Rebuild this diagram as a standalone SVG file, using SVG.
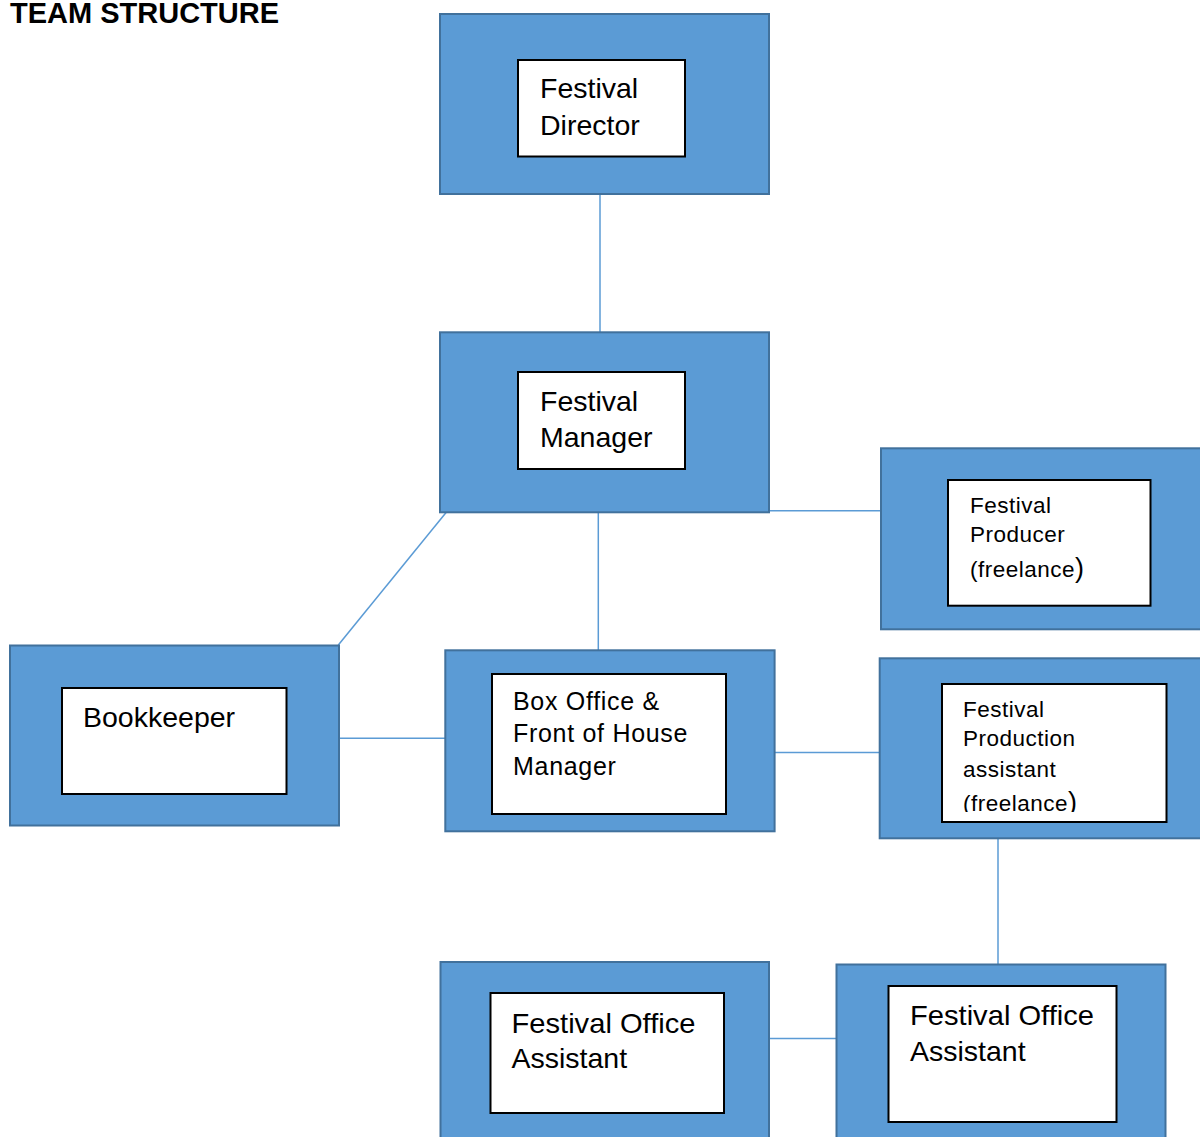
<svg xmlns="http://www.w3.org/2000/svg" width="1200" height="1137" viewBox="0 0 1200 1137">
<style>
.outer{fill:#5B9BD5;stroke:#41719C;stroke-width:2}
.inner{fill:#FFFFFF;stroke:#000000;stroke-width:2}
.conn{stroke:#5B9BD5;stroke-width:1.5;fill:none}
.t{font-family:"Liberation Sans",Arial,sans-serif;fill:#000000}
.big{font-size:28.5px}
.mid{font-size:25px;letter-spacing:0.7px}
.sm{font-size:22.5px;letter-spacing:0.5px}
.title{font-family:"Liberation Sans",Arial,sans-serif;font-weight:bold;font-size:29px;fill:#000000}
</style>
<defs>
<clipPath id="clipPA"><rect x="942" y="684" width="224" height="128"/></clipPath>
</defs>
<rect width="1200" height="1137" fill="#FFFFFF"/>
<text class="title" x="10" y="23">TEAM STRUCTURE</text>
<g id="connectors">
<line class="conn" x1="600" y1="194" x2="600" y2="332"/>
<line class="conn" x1="769" y1="510.7" x2="881" y2="510.7"/>
<line class="conn" x1="598.3" y1="512" x2="598.3" y2="650"/>
<line class="conn" x1="446.7" y1="511.7" x2="338.3" y2="645"/>
<line class="conn" x1="339" y1="738.3" x2="492" y2="738.3"/>
<line class="conn" x1="775" y1="752.5" x2="880" y2="752.5"/>
<line class="conn" x1="998" y1="838" x2="998" y2="964"/>
<line class="conn" x1="769" y1="1038.5" x2="836" y2="1038.5"/>
</g>
<g id="festival-director">
<rect class="outer" x="440" y="14" width="329" height="180"/>
<rect class="inner" x="518" y="60" width="167" height="96.5"/>
<text class="t big" x="540" y="98">Festival</text>
<text class="t big" x="540" y="135">Director</text>
</g>
<g id="festival-manager">
<rect class="outer" x="440" y="332.3" width="329" height="180"/>
<rect class="inner" x="518" y="372" width="167" height="97"/>
<text class="t big" x="540" y="410.7">Festival</text>
<text class="t big" x="540" y="446.5">Manager</text>
</g>
<g id="festival-producer">
<rect class="outer" x="881" y="448.3" width="325" height="181"/>
<rect class="inner" x="948" y="480" width="202.5" height="125.7"/>
<text class="t sm" x="970" y="512.7">Festival</text>
<text class="t sm" x="970" y="542">Producer</text>
<text class="t sm" x="970" y="577">(freelance<tspan font-size="27px">)</tspan></text>
</g>
<g id="bookkeeper">
<rect class="outer" x="10" y="645.5" width="329" height="180"/>
<rect class="inner" x="62" y="688" width="224.5" height="106"/>
<text class="t big" x="83" y="727">Bookkeeper</text>
</g>
<g id="box-office">
<rect class="outer" x="445.3" y="650.3" width="329.3" height="181"/>
<rect class="inner" x="492" y="674" width="234" height="140"/>
<text class="t mid" x="513" y="710">Box Office &amp;</text>
<text class="t mid" x="513" y="742">Front of House</text>
<text class="t mid" x="513" y="775">Manager</text>
</g>
<g id="production-assistant">
<rect class="outer" x="879.7" y="658.3" width="326" height="180"/>
<rect class="inner" x="942" y="684" width="224.5" height="138"/>
<g clip-path="url(#clipPA)">
<text class="t sm" x="963" y="716.7">Festival</text>
<text class="t sm" x="963" y="746">Production</text>
<text class="t sm" x="963" y="776.7">assistant</text>
<text class="t sm" x="963" y="811">(freelance<tspan font-size="27px">)</tspan></text>
</g>
</g>
<g id="office-assistant-1">
<rect class="outer" x="440.5" y="962" width="328.5" height="185"/>
<rect class="inner" x="490.5" y="993" width="233.5" height="120"/>
<text class="t big" x="511.5" y="1032.5" textLength="184" lengthAdjust="spacingAndGlyphs">Festival Office</text>
<text class="t big" x="511.5" y="1068">Assistant</text>
</g>
<g id="office-assistant-2">
<rect class="outer" x="836.5" y="964.5" width="329" height="185"/>
<rect class="inner" x="888.5" y="986" width="228" height="136"/>
<text class="t big" x="910" y="1024.5" textLength="184" lengthAdjust="spacingAndGlyphs">Festival Office</text>
<text class="t big" x="910" y="1060.5">Assistant</text>
</g>
</svg>
